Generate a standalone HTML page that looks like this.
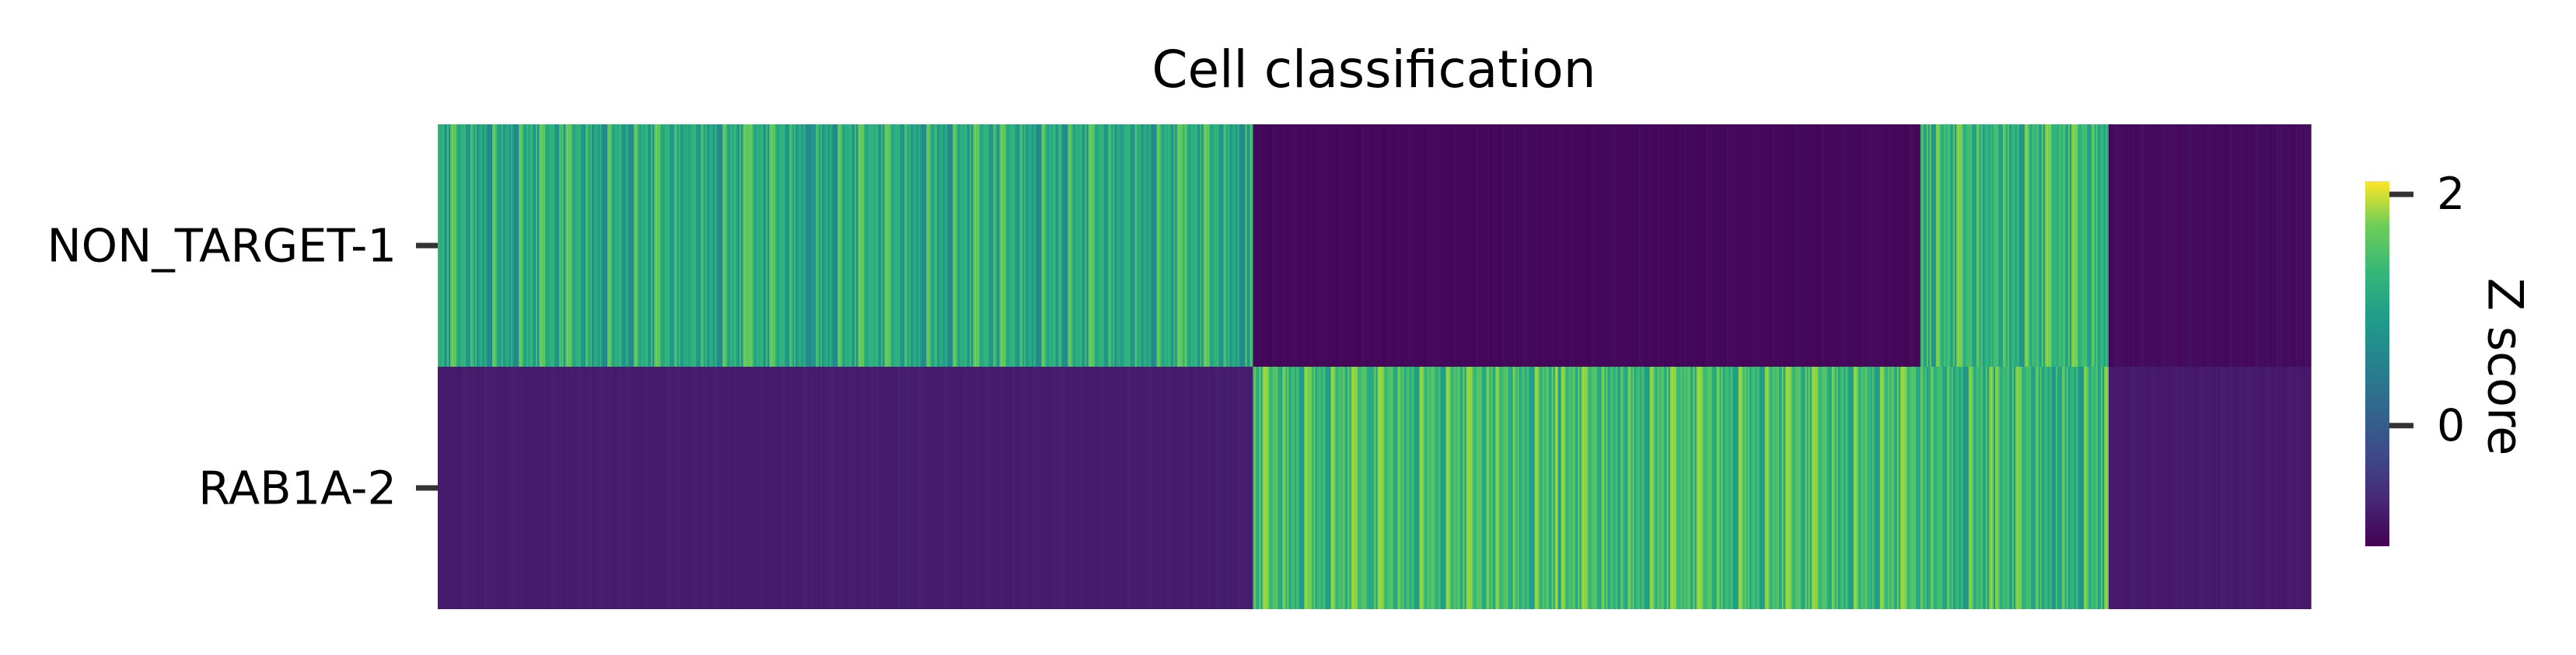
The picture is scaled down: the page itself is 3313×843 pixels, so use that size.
<!DOCTYPE html>
<html><head><meta charset="utf-8"><style>
html,body{margin:0;padding:0;background:#fff;}
svg{display:block;}
text{font-family:"DejaVu Sans","Liberation Sans",sans-serif;}
</style></head><body>
<svg id="chart" width="3313" height="843" viewBox="0 0 3313 843" xmlns="http://www.w3.org/2000/svg">
<defs>
<linearGradient id="vir" x1="0" y1="1" x2="0" y2="0">
<stop offset="0" stop-color="#440154"/><stop offset="0.13" stop-color="#482878"/><stop offset="0.25" stop-color="#3e4989"/><stop offset="0.38" stop-color="#31688e"/><stop offset="0.5" stop-color="#26828e"/><stop offset="0.63" stop-color="#1f9e89"/><stop offset="0.75" stop-color="#35b779"/><stop offset="0.88" stop-color="#6ece58"/><stop offset="1" stop-color="#fde725"/>
</linearGradient>
</defs>
<text x="1767" y="112" font-size="66" text-anchor="middle">Cell classification</text>
<g id="cells"></g>
<g id="yaxis"></g>
<rect x="3042" y="233" width="31" height="470" fill="url(#vir)"/>
<g id="cbaxis"></g>
<text x="3222" y="472" font-size="62" text-anchor="middle" dominant-baseline="central" transform="rotate(90 3222 472)">Z score</text>
</svg>
<script>
const categories = ["NON_TARGET-1", "RAB1A-2"];
const groupCellCounts = [524, 429, 121, 130];
const groupMeansRow1 = [0.85, -0.98, 1.0, -0.95];
const groupMeansRow2 = [-0.8, 1.1, 1.0, -0.82];
const groupSpreadRow1 = [0.65, 0.04, 0.65, 0.05];
const groupSpreadRow2 = [0.04, 0.65, 0.65, 0.04];
const jitter = [0.3,-0.2,0.5,-0.4,0.1,0.7,-0.3,0.0,0.4,-0.6,0.2,-0.1,0.8,-0.35,0.15,-0.5,0.6,-0.25,0.05,0.45,-0.45,0.35,-0.15,0.9,-0.7,0.25,-0.05,0.55,-0.3,0.1,0.65,-0.55,0.2,-0.2,0.4,-0.4,0.0,0.75,-0.65,0.3];
const cbTicks = [2, 0];
const zMin = -1.043, zMax = 2.115;

const svgNS = "http://www.w3.org/2000/svg";
const plot = {x0: 563, x1: 2972, y0: 160, y1: 784};
const nCells = groupCellCounts.reduce((a,b)=>a+b,0);
const xScale = i => plot.x0 + (plot.x1 - plot.x0) * i / nCells;
const rowH = (plot.y1 - plot.y0) / categories.length;
const yScale = r => plot.y0 + r * rowH;
const cbY = v => 703 - (v - zMin) / (zMax - zMin) * 470;

const vStops = [[68,1,84],[72,40,120],[62,73,137],[49,104,142],[38,130,142],[31,158,137],[53,183,121],[110,206,88],[181,222,43],[253,231,37]];
function viridis(t){
  t = Math.max(0, Math.min(1, t));
  const p = t * (vStops.length - 1), i = Math.min(Math.floor(p), vStops.length - 2), f = p - i;
  const a = vStops[i], b = vStops[i+1];
  return "rgb(" + a.map((c,k)=>Math.round(c + (b[k]-c)*f)).join(",") + ")";
}
const color = v => viridis((v - zMin) / (zMax - zMin));

const cellsG = document.getElementById("cells");
const means = [groupMeansRow1, groupMeansRow2];
const spreads = [groupSpreadRow1, groupSpreadRow2];
for (let r = 0; r < categories.length; r++) {
  let idx = 0;
  for (let g = 0; g < groupCellCounts.length; g++) {
    for (let c = 0; c < groupCellCounts[g]; c++) {
      const j = jitter[(idx * 7 + r * 13 + Math.floor(idx / 40)) % jitter.length];
      const v = means[r][g] + j * spreads[r][g];
      const x = xScale(idx), w = xScale(idx + 1) - x + 0.6;
      const rect = document.createElementNS(svgNS, "rect");
      rect.setAttribute("x", x.toFixed(2));
      rect.setAttribute("y", yScale(r));
      rect.setAttribute("width", w.toFixed(2));
      rect.setAttribute("height", rowH);
      rect.setAttribute("fill", color(v));
      
      
      cellsG.appendChild(rect);
      idx++;
    }
  }
}

const yaxis = document.getElementById("yaxis");
categories.forEach((cat, r) => {
  const cy = yScale(r) + rowH / 2;
  const tick = document.createElementNS(svgNS, "rect");
  tick.setAttribute("x", 535); tick.setAttribute("y", cy - 3.5);
  tick.setAttribute("width", 28); tick.setAttribute("height", 7);
  tick.setAttribute("fill", "#333");
  
  
  yaxis.appendChild(tick);
  const t = document.createElementNS(svgNS, "text");
  t.setAttribute("x", 510); t.setAttribute("y", cy);
  t.setAttribute("font-size", "59"); t.setAttribute("text-anchor", "end");
  t.setAttribute("dominant-baseline", "central");
  t.textContent = cat;
  
  
  yaxis.appendChild(t);
});

const cbaxis = document.getElementById("cbaxis");
cbTicks.forEach(v => {
  const y = cbY(v);
  const tick = document.createElementNS(svgNS, "rect");
  tick.setAttribute("x", 3073); tick.setAttribute("y", y - 3.5);
  tick.setAttribute("width", 31); tick.setAttribute("height", 7);
  tick.setAttribute("fill", "#333");
  
  
  cbaxis.appendChild(tick);
  const t = document.createElementNS(svgNS, "text");
  t.setAttribute("x", 3134); t.setAttribute("y", y);
  t.setAttribute("font-size", "57");
  t.setAttribute("dominant-baseline", "central");
  t.textContent = String(v);
  
  
  cbaxis.appendChild(t);
});
</script>
</body></html>
